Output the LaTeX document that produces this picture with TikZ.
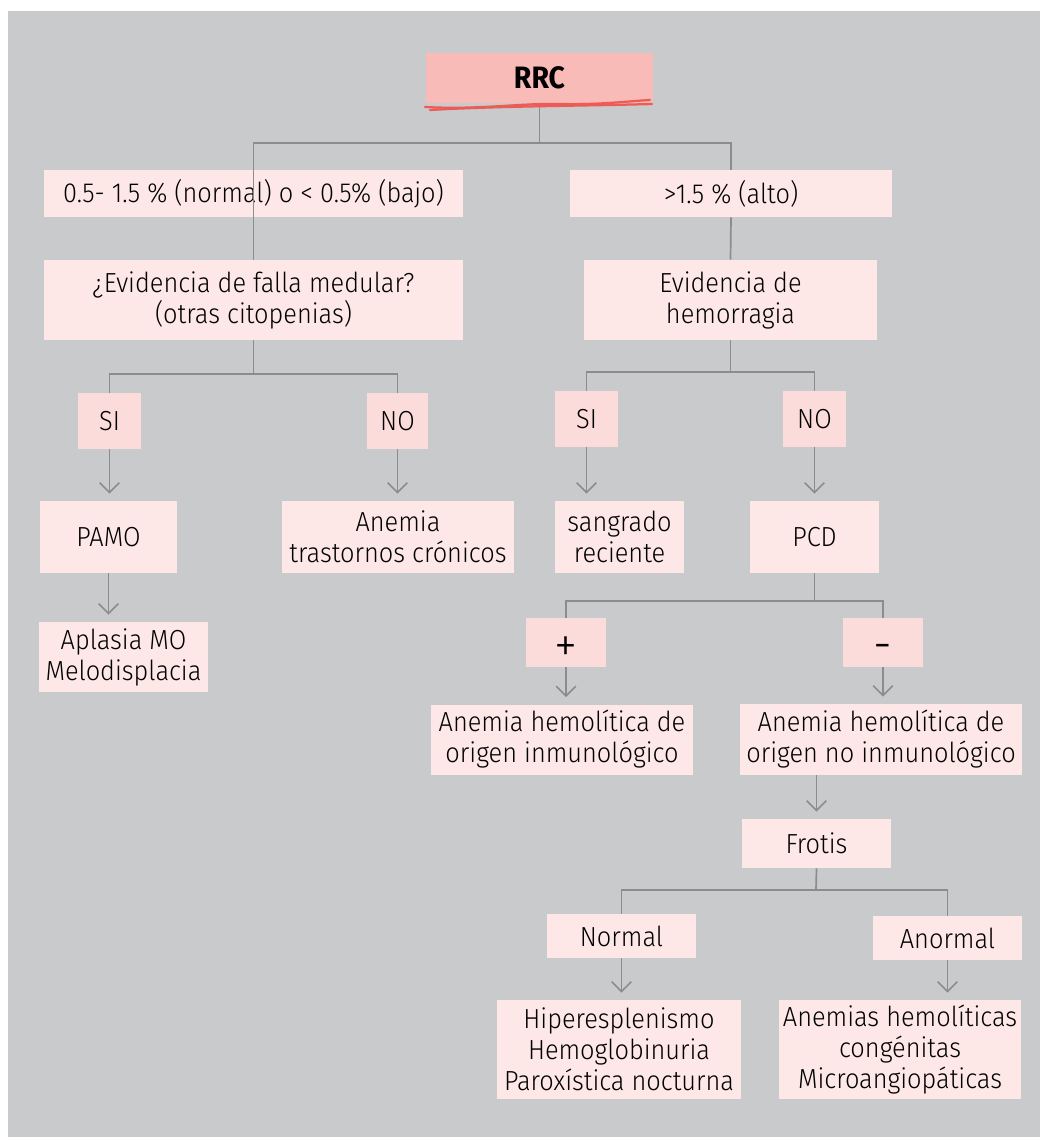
\documentclass[tikz,border=0pt]{standalone}
\usepackage{fontspec}
\setmainfont{Fira Sans Light}[BoldFont={Fira Sans Bold}, FakeStretch=0.92]
\usetikzlibrary{arrows.meta}
\definecolor{fondo}{HTML}{C9CACC}
\definecolor{rosa}{HTML}{FDE7E7}
\definecolor{rosatag}{HTML}{FCDCDA}
\definecolor{rosarrc}{HTML}{F9BBB8}
\definecolor{gris}{HTML}{8C8C8E}
\definecolor{rojo}{HTML}{EE5B55}
\newcommand{\px}{0.025cm}

\begin{document}
\begin{tikzpicture}[%
  x=0.025cm, y=-0.025cm,
  box/.style={fill=rosa, inner sep=0pt, align=center, text=black,
    font=\fontsize{19.6}{22}\selectfont},
  tag/.style={box, fill=rosatag},
  sign/.style={tag, font=\fontsize{36}{36}\selectfont},
  conn/.style={draw=gris, line width=1.2pt},
  arr/.style={conn, -{Straight Barb[length=7pt,width=14pt]}, shorten >=5pt},
  scrib/.style={draw=rojo, line width=1.6pt, line cap=round}]
\useasboundingbox (0,0) rectangle (1040,1137);
\fill[fondo] (8,11) rectangle (1040,1137);

% top
\node[box, fill=rosarrc, minimum width=227*\px, minimum height=50*\px,
  font=\fontsize{22}{24}\selectfont\bfseries] (rrc) at (539.5,78) {RRC};
\node[box, minimum width=419*\px, minimum height=47*\px] (rango) at (253.5,193.5)
  {0.5- 1.5 \% (normal) o < 0.5\% (bajo)};
\node[box, minimum width=322*\px, minimum height=47*\px] (alto) at (731,193.5)
  {>1.5 \% (alto)};
\node[box, minimum width=419*\px, minimum height=80*\px] (falla) at (253.5,300)
  {¿Evidencia de falla medular?\\(otras citopenias)};
\node[box, minimum width=293*\px, minimum height=80*\px] (hemo) at (730.5,300)
  {Evidencia de\\hemorragia};

% left branch
\node[tag, minimum width=63*\px, minimum height=56*\px] (si1) at (109.5,421) {SI};
\node[tag, minimum width=61*\px, minimum height=56*\px] (no1) at (397.5,421) {NO};
\node[box, minimum width=137*\px, minimum height=72*\px] (pamo) at (108.5,537) {PAMO};
\node[box, minimum width=232*\px, minimum height=72*\px] (cronica) at (398,537)
  {Anemia\\trastornos crónicos};
\node[box, minimum width=169*\px, minimum height=70*\px] (aplasia) at (123.5,657)
  {Aplasia MO\\Melodisplacia};

% right branch
\node[tag, minimum width=63*\px, minimum height=56*\px] (si2) at (586.5,419) {SI};
\node[tag, minimum width=63*\px, minimum height=56*\px] (no2) at (814.5,419) {NO};
\node[box, minimum width=129*\px, minimum height=72*\px] (sangrado) at (619.5,537)
  {sangrado\\reciente};
\node[box, minimum width=129*\px, minimum height=72*\px] (pcd) at (814.5,537) {PCD};
\node[sign, minimum width=80*\px, minimum height=49*\px] (mas) at (566,642.5)
  {\raisebox{-14pt}[0pt][0pt]{+}};
\node[sign, minimum width=80*\px, minimum height=49*\px] (menos) at (883,642.5)
  {\raisebox{-13.5pt}[0pt][0pt]{-}};
\node[box, minimum width=262*\px, minimum height=70*\px] (inmuno) at (562,739.5)
  {Anemia hemolítica de\\origen inmunológico};
\node[box, minimum width=282*\px, minimum height=71*\px] (noinmuno) at (881,739.5)
  {Anemia hemolítica de\\origen no inmunológico};
\node[box, minimum width=149*\px, minimum height=49*\px] (frotis) at (816.5,843.5) {Frotis};
\node[box, minimum width=149*\px, minimum height=44*\px] (normal) at (621.5,936) {Normal};
\node[box, minimum width=149*\px, minimum height=44*\px] (anormal) at (947.5,938) {Anormal};
\node[box, minimum width=244*\px, minimum height=99*\px] (hiper) at (619,1049.5)
  {Hiperesplenismo\\Hemoglobinuria\\Paroxística nocturna};
\node[box, minimum width=242*\px, minimum height=99*\px] (congen) at (900,1049.5)
  {Anemias hemolíticas\\congénitas\\Microangiopáticas};

% junctions
\coordinate (j1) at (539.5,143);
\coordinate (j2) at (253.5,374);
\coordinate (j3) at (730.5,372);
\coordinate (j4) at (814.5,601);
\coordinate (j5) at (816,890);

\draw[conn] (rrc.south) -- (j1);
\draw[conn] (falla.north) |- (j1) -| (alto.north);
\draw[conn] (alto.south) -- (hemo.north);
\draw[conn] (falla.south) -- (j2);
\draw[conn] (si1.north) |- (j2) -| (no1.north);
\draw[conn] (hemo.south) -- (j3);
\draw[conn] (si2.north) |- (j3) -| (no2.north);
\draw[conn] (pcd.south) -- (j4);
\draw[conn] (mas.north) |- (j4) -| (menos.north);
\draw[conn] (frotis.south) -- (j5);
\draw[conn] (normal.north) |- (j5) -| (anormal.north);

\draw[arr] (si1.south) -- (si1.south |- pamo.north);
\draw[arr] (pamo.south) -- (pamo.south |- aplasia.north);
\draw[arr] (no1.south) -- (no1.south |- cronica.north);
\draw[arr] (si2.south) -- (si2.south |- sangrado.north);
\draw[arr] (no2.south) -- (no2.south |- pcd.north);
\draw[arr] (mas.south) -- (mas.south |- inmuno.north);
\draw[arr] (menos.south) -- (menos.south |- noinmuno.north);
\draw[arr] (frotis.north |- noinmuno.south) -- (frotis.north);
\draw[arr] (normal.south) -- (normal.south |- hiper.north);
\draw[arr] (anormal.south) -- (anormal.south |- congen.north);

% red underline of RRC
\draw[scrib] (425,107) .. controls (480,110) and (520,103) .. (560,104)
  .. controls (600,105) and (630,101) .. (650,100);
\draw[scrib] (430,110) .. controls (500,106) and (580,106) .. (652,104);
\end{tikzpicture}
\end{document}
